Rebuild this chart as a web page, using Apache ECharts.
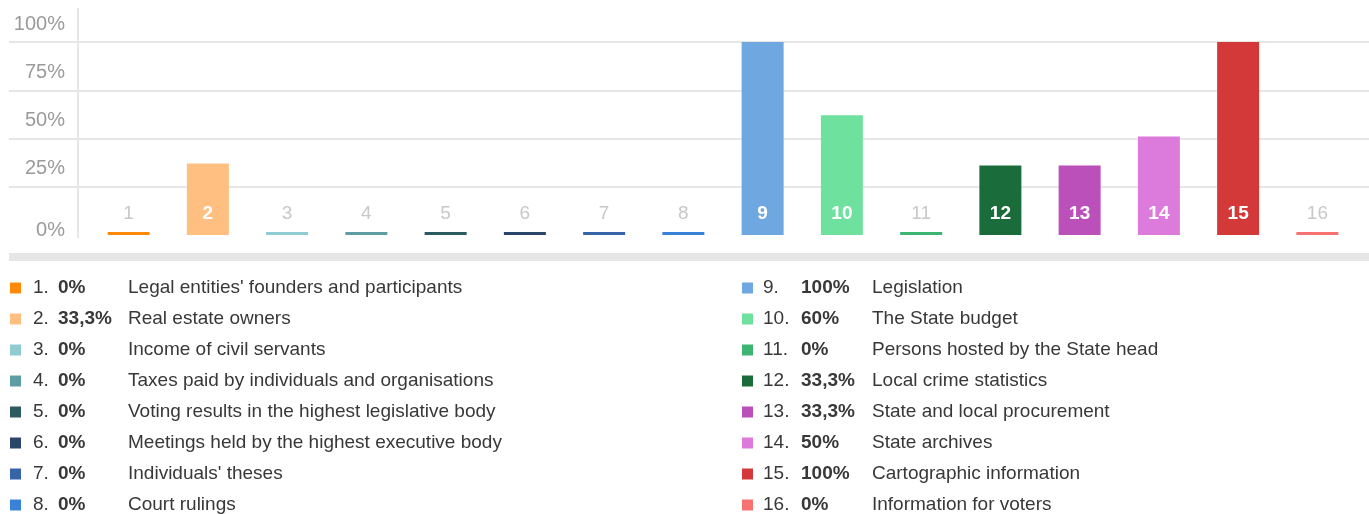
<!DOCTYPE html>
<html lang="en">
  <head>
    <meta charset="UTF-8">
    <title>Open data by category</title>
    <style>
      html, body { margin: 0; padding: 0; background: #fff; }
      .chart { width: 1369px; height: 514px; }
    </style>
  </head>
  <body>
    <div id="chart" class="chart"></div>

    <script src="https://cdn.jsdelivr.net/npm/echarts@6/dist/echarts.min.js"></script>
    <script type="text/javascript">
      // categories (bar numbers) and their legend names
      var cats = ['1', '2', '3', '4', '5', '6', '7', '8', '9', '10', '11', '12', '13', '14', '15', '16'];
      var names = [
        "Legal entities' founders and participants",
        'Real estate owners',
        'Income of civil servants',
        'Taxes paid by individuals and organisations',
        'Voting results in the highest legislative body',
        'Meetings held by the highest executive body',
        "Individuals' theses",
        'Court rulings',
        'Legislation',
        'The State budget',
        'Persons hosted by the State head',
        'Local crime statistics',
        'State and local procurement',
        'State archives',
        'Cartographic information',
        'Information for voters'
      ];
      // shares as written in the legend
      var shares = [0, 33.3, 0, 0, 0, 0, 0, 0, 100, 60, 0, 33.3, 33.3, 50, 100, 0];
      // bar heights as drawn in the picture (%)
      var heights = [0, 37, 0, 0, 0, 0, 0, 0, 100, 62, 0, 36, 36, 51, 100, 0];

      var palette = ['#ff8a0a', '#ffbf80', '#8fcbd1', '#5e9ea3', '#2c5b5f', '#2b4668', '#3565a6', '#3a82d8',
                     '#6fa7e1', '#6fe19e', '#3cb573', '#1b6c3b', '#bc50bb', '#dc7bdb', '#d33939', '#f97272'];

      var font = 'Arial, "Liberation Sans", sans-serif';
      var myChart = echarts.init(document.getElementById('chart'));

      function pct(v) {
        return String(v).replace('.', ',') + '%';
      }

      var onBar = { color: '#fff', fontWeight: 'bold' };
      var offBar = { color: '#c8c8c8', fontWeight: 'normal' };

      var series = names.map(function (name, i) {
        return {
          name: name,
          type: 'bar',
          stack: 'all',
          xAxisIndex: 1,
          yAxisIndex: 1,
          barWidth: 42,
          barMinHeight: 3,
          itemStyle: { color: palette[i] },
          label: {
            show: true,
            position: 'insideBottom',
            distance: 12,
            fontSize: 19,
            fontFamily: font,
            formatter: '{b}'
          },
          data: cats.map(function (c, j) {
            if (j !== i) return '-';
            return { value: heights[i], label: heights[i] > 0 ? onBar : offBar };
          })
        };
      });

      function legendRich(gw, nw, pw) {
        var base = { fontSize: 19, lineHeight: 20, color: '#383838', fontFamily: font };
        return {
          g: Object.assign({ width: gw }, base),
          n: Object.assign({ width: nw }, base),
          p: Object.assign({ width: pw, fontWeight: 'bold', color: '#222' }, base),
          t: Object.assign({}, base)
        };
      }
      function legendText(name) {
        var i = names.indexOf(name);
        return '{g| }{n|' + cats[i] + '.}{p|' + pct(shares[i]) + '}{t|' + name + '}';
      }
      function legendBlock(left, from, to, rich) {
        return {
          orient: 'vertical',
          left: left,
          top: 278,
          height: 300,
          padding: 0,
          itemWidth: 11,
          itemHeight: 11,
          itemGap: 11,
          icon: 'rect',
          selectedMode: false,
          data: names.slice(from, to),
          formatter: legendText,
          textStyle: { rich: rich, lineHeight: 20 }
        };
      }

      var option = {
        backgroundColor: '#fff',
        animation: false,
        textStyle: { fontFamily: font },
        grid: [
          { left: 9, right: 0, top: 42, bottom: 279 },   // gridlines + tick labels
          { left: 89, right: 12, top: 42, bottom: 279 }, // bars
          { left: 78, width: 1, top: 8, bottom: 276 }    // vertical axis line
        ],
        xAxis: [
          {
            gridIndex: 0, type: 'value', min: 0, max: 1,
            axisLine: { show: true, onZero: false, lineStyle: { color: '#e6e6e6', width: 8, cap: 'butt' } },
            offset: 22,
            axisTick: { show: false }, axisLabel: { show: false }, splitLine: { show: false }
          },
          {
            gridIndex: 1, type: 'category', data: cats,
            axisLine: { show: false }, axisTick: { show: false }, axisLabel: { show: false }
          },
          {
            gridIndex: 2, type: 'value', show: false
          }
        ],
        yAxis: [
          {
            gridIndex: 0, type: 'value', min: 0, max: 100, interval: 25,
            axisLine: { show: false }, axisTick: { show: false },
            splitLine: { show: true, showMinLine: false, lineStyle: { color: '#e6e6e6', width: 2 } },
            axisLabel: {
              inside: true,
              align: 'right',
              margin: 56,
              verticalAlign: 'middle',
              formatter: function (v) {
                return v === 0 ? '{z|0%}' : '{a|' + v + '%}';
              },
              rich: {
                a: { fontSize: 20, color: '#9a9a9a', padding: [0, 0, 36, 0] },
                z: { fontSize: 20, color: '#9a9a9a', padding: [0, 0, 10, 0] }
              }
            }
          },
          {
            gridIndex: 1, type: 'value', min: 0, max: 100, interval: 25,
            axisLine: { show: false }, axisTick: { show: false },
            axisLabel: { show: false }, splitLine: { show: false }
          },
          {
            gridIndex: 2, type: 'value', min: 0, max: 1, z: 10,
            axisLine: { show: true, lineStyle: { color: '#e6e6e6', width: 2, cap: 'butt' } },
            axisTick: { show: false }, axisLabel: { show: false }, splitLine: { show: false }
          }
        ],
        legend: [
          legendBlock(10, 0, 8, legendRich(7, 25, 70)),
          legendBlock(742, 8, 16, legendRich(5, 38, 71))
        ],
        series: series
      };

      myChart.setOption(option);
    </script>
  </body>
</html>
